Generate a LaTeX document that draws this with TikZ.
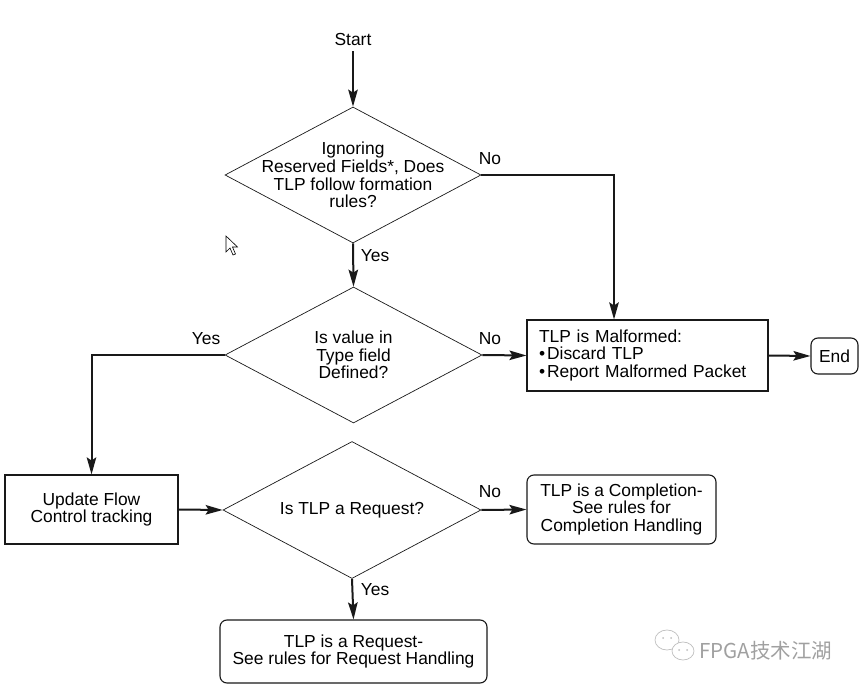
\documentclass[tikz,border=0pt]{standalone}
\usepackage{fontspec}
\setmainfont{Liberation Sans}
\newfontfamily\cjkfont{Noto Sans CJK SC}
\usetikzlibrary{arrows.meta,positioning,shapes.geometric}
\definecolor{FlowLine}{RGB}{25,25,25}
\definecolor{MarkGray}{RGB}{160,160,160}
\definecolor{IconGray}{RGB}{190,190,190}

\begin{document}
\begin{tikzpicture}[
x=1pt, y=-1pt,
every node/.style={font=\fontsize{17.4}{17.6}\selectfont},
block/.style={
draw=FlowLine,
line width=1.1pt,
align=center,
inner sep=0pt
},
roundblock/.style={block, rounded corners=7pt},
decision/.style={
diamond,
draw=FlowLine,
line width=0.7pt,
inner sep=0pt
},
flow/.style={draw=FlowLine, line width=2pt, -{Stealth[length=17pt,width=9.5pt,inset=3pt]}},
lbl/.style={inner sep=0pt}
]

\useasboundingbox (0,0) rectangle (863,687);

% start and first check
\node[lbl] (start) at (353,40) {Start};
\node[decision, minimum width=256pt, minimum height=136pt] (d1) at (353,175) {};
\node[lbl, align=center] (d1txt) at (d1.center) {Ignoring\\Reserved Fields*, Does\\TLP follow formation\\rules?};

% type field check
\node[decision, minimum width=257pt, minimum height=136pt] (d2) at (353.5,355) {};
\node[lbl, align=center] (d2txt) at (d2.center) {Is value in\\Type field\\Defined?};

% request check
\node[decision, minimum width=258pt, minimum height=137pt] (d3) at (352,510) {};
\node[lbl] (d3txt) at (d3.center) {Is TLP a Request?};

% boxes
\node[block, minimum width=241pt, minimum height=71pt, text width=217pt, inner xsep=12pt, align=left] (mal) at (647.5,355.5)
{TLP is Malformed:\\\textbullet\kern2pt Discard TLP\\\textbullet\kern2pt Report Malformed Packet};
\node[roundblock, minimum width=47pt, minimum height=36pt] (end) at (834.5,356) {End};
\node[block, minimum width=173pt, minimum height=69pt] (upd) at (91.5,509.5) {Update Flow\\Control tracking};
\node[roundblock, minimum width=189pt, minimum height=69pt] (comp) at (621.5,509.5)
{TLP is a Completion-\\See rules for\\Completion Handling};
\node[roundblock, minimum width=267pt, minimum height=63pt] (req) at (353.5,651.5)
{TLP is a Request-\\See rules for Request Handling};

% connectors
\draw[flow] (start.south) ++(0,5) -- (d1.north);
\draw[flow] (d1.east) -| ([xshift=-33.5pt]mal.north);
\draw[flow] (d1.south) -- (d2.north);
\draw[flow] (d2.east) -- (mal.west);
\draw[flow] (d2.west) -| (upd.north);
\draw[flow] (mal.east) -- (end.west);
\draw[flow] (upd.east) -- (d3.west);
\draw[flow] (d3.east) -- (comp.west);
\draw[flow] (d3.south) -- (req.north);

% branch labels
\node[lbl] (no1) at (490,159) {No};
\node[lbl] (yes1) at (375,256) {Yes};
\node[lbl] (yes2) at (206,339) {Yes};
\node[lbl] (no2) at (490,339) {No};
\node[lbl] (no3) at (490,492) {No};
\node[lbl] (yes3) at (375,590) {Yes};

% pointer
\draw[line width=0.6pt, fill=white] (226,236) -- (226,252) -- (230,248) -- (233,255) -- (235.5,254) -- (232.5,247) -- (237.5,247) -- cycle;

% watermark
\draw[IconGray, line width=0.7pt] (667,640) ellipse (12pt and 10pt);
\draw[IconGray, line width=0.7pt, fill=white] (683,651) ellipse (11pt and 9pt);
\fill[IconGray] (663,638) circle (1pt) (671,638) circle (1pt) (679,650) circle (1pt) (687,650) circle (1pt);
\node[lbl, text=MarkGray, font=\cjkfont\fontsize{20.5}{20.5}\selectfont, anchor=west] (mark) at (699,651) {FPGA技术江湖};

\end{tikzpicture}
\end{document}
